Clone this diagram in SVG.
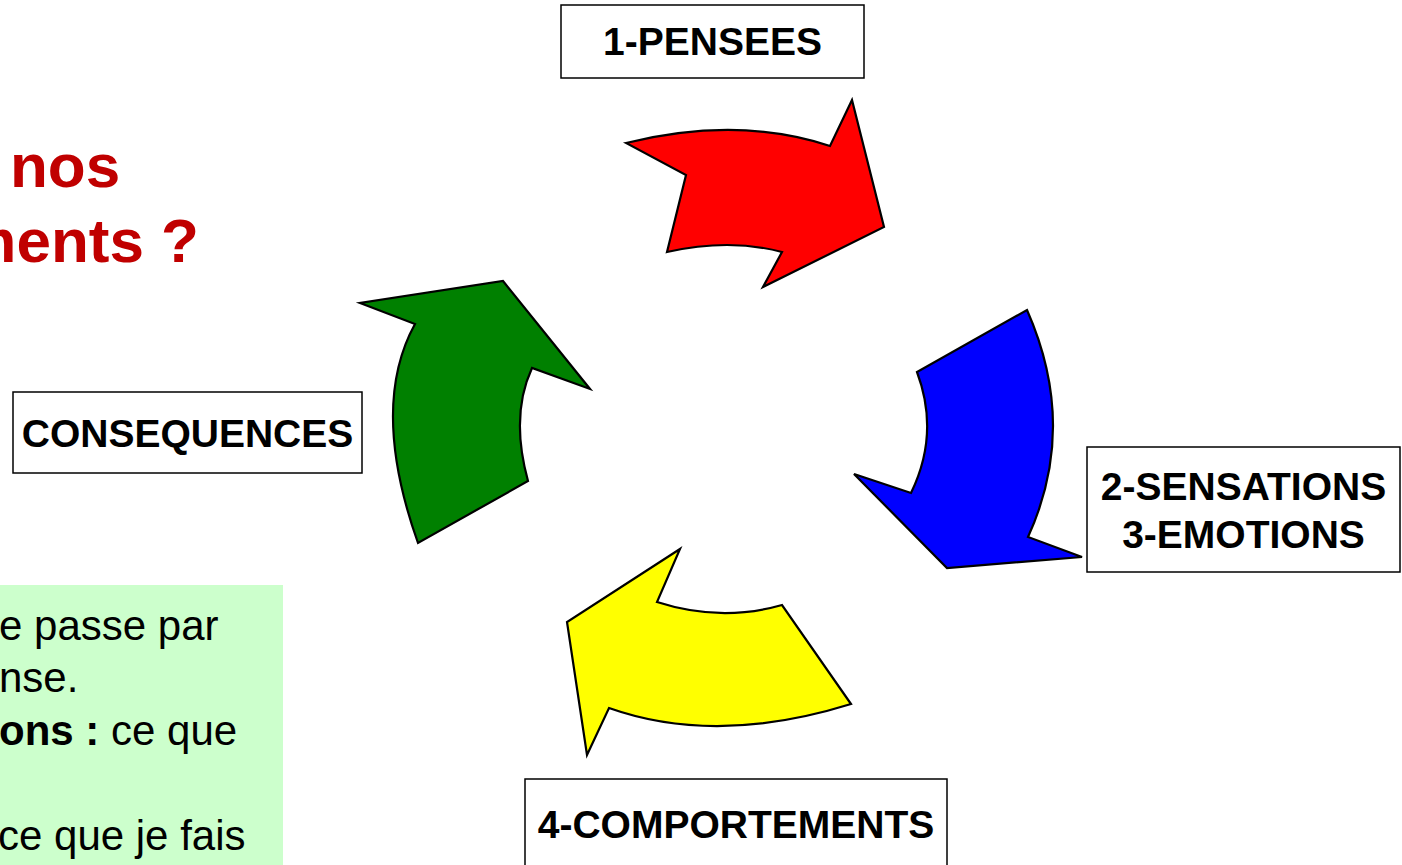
<svg xmlns="http://www.w3.org/2000/svg" width="1402" height="865" viewBox="0 0 1402 865">
  <style>
    .box { fill: #ffffff; stroke: #000000; stroke-width: 1.5; }
    .label { font-family: "Liberation Sans", Arial, sans-serif; font-weight: bold; font-size: 39px; fill: #000000; text-anchor: middle; }
    .title { font-family: "Liberation Sans", Arial, sans-serif; font-weight: bold; font-size: 62px; fill: #C00000; }
    .note { font-family: "Liberation Sans", Arial, sans-serif; font-size: 42px; fill: #000000; }
    .arrow { stroke: #000000; stroke-width: 2.2; stroke-linejoin: miter; }
  </style>
  <rect x="0" y="0" width="1402" height="865" fill="#ffffff"/>

  <!-- heading (runs off the left edge) -->
  <g id="title">
    <text class="title" x="10" y="187">nos</text>
    <text class="title" x="199" y="262" text-anchor="end">ments ?</text>
  </g>

  <!-- explanatory note -->
  <g id="note">
    <rect x="0" y="585" width="283" height="280" fill="#CCFFCC"/>
    <text class="note" x="-1" y="640">e passe par</text>
    <text class="note" x="-1" y="692">nse.</text>
    <text class="note" x="-1" y="745"><tspan font-weight="bold">ons :</tspan> ce que</text>
    <text class="note" x="-2" y="850">ce que je fais</text>
  </g>

  <!-- cycle arrows -->
  <g id="connectors">
    <path id="arrow-red" class="arrow" fill="#FF0000"
          d="M626,143 Q738,115.5 830,146 L852,100 L884,227 L763,287 L782,252 Q729.5,238 667,252 L686,175 Z"/>
    <path id="arrow-blue" class="arrow" fill="#0000FF"
          d="M1027,310 Q1078.5,426.5 1028,537 L1082,557 L947,568 L854,474 L911,493 Q940,433.5 917,372 Z"/>
    <path id="arrow-yellow" class="arrow" fill="#FFFF00"
          d="M851,704 Q716,746 609,708 L587,755 L567,622 L680,549 L657,602 Q720.5,622.5 782,605 Z"/>
    <path id="arrow-green" class="arrow" fill="#008000"
          d="M418,543 Q369.5,406.5 415,324 L360,303 L503,281 L590,389 L532,368 Q510,415.5 528,481 Z"/>
  </g>

  <g id="node-pensees">
    <rect class="box" x="561" y="5" width="303" height="73"/>
    <text class="label" x="712.5" y="55">1-PENSEES</text>
  </g>

  <g id="node-sensations-emotions">
    <rect class="box" x="1087" y="447" width="313" height="125"/>
    <text class="label" x="1243.5" y="500">2-SENSATIONS</text>
    <text class="label" x="1243.5" y="548">3-EMOTIONS</text>
  </g>

  <g id="node-comportements">
    <rect class="box" x="525" y="779" width="422" height="100"/>
    <text class="label" x="736" y="838">4-COMPORTEMENTS</text>
  </g>

  <g id="node-consequences">
    <rect class="box" x="13" y="392" width="349" height="81"/>
    <text class="label" x="187.5" y="447">CONSEQUENCES</text>
  </g>
</svg>
